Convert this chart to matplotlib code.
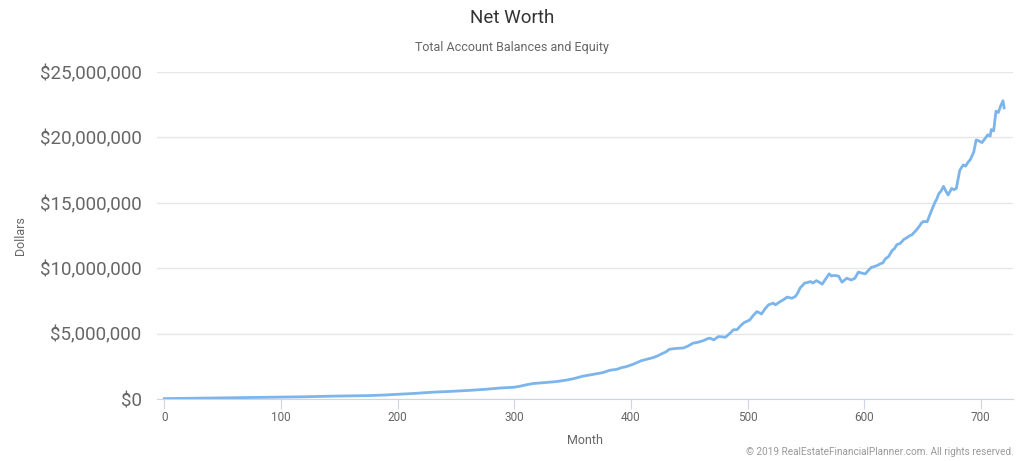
import matplotlib
matplotlib.use("Agg")
from matplotlib import pyplot as plt
from matplotlib.ticker import FuncFormatter

# net worth (millions of dollars)
months = [0, 20, 45, 70, 100, 120, 145, 160, 175, 190, 200, 215, 230, 245, 260,
          275, 288, 300, 305, 310, 316, 325, 336, 345, 352, 359, 365, 373, 376,
          382, 388, 392, 396, 402, 409, 414, 419, 423, 426, 430, 433, 437, 441,
          445, 449, 453, 458, 462, 466, 468, 471, 475, 479, 481, 485, 488, 491,
          494, 497, 499, 502, 505, 508, 510, 512, 515, 518, 522, 524, 528, 531,
          534, 538, 541, 543, 545, 549, 551, 554, 556, 559, 562, 564, 566, 570,
          572, 574, 578, 581, 585, 589, 592, 595, 599, 601, 604, 606, 611, 614,
          616, 618, 621, 624, 626, 628, 631, 634, 636, 639, 641, 645, 648, 649,
          651, 654, 656, 658, 661, 662, 664, 666, 668, 670, 672, 675, 677, 679,
          682, 685, 687, 689, 691, 694, 696, 698, 701, 704, 706, 708, 709, 711,
          713, 715, 717, 719, 720]
net_worth_m = [0.03, 0.05, 0.08, 0.11, 0.14, 0.17, 0.22, 0.24, 0.26, 0.31, 0.36,
               0.43, 0.52, 0.58, 0.65, 0.74, 0.84, 0.90, 0.98, 1.08, 1.18, 1.25,
               1.33, 1.45, 1.58, 1.75, 1.84, 1.97, 2.02, 2.20, 2.27, 2.40, 2.47,
               2.66, 2.93, 3.05, 3.16, 3.30, 3.44, 3.60, 3.80, 3.85, 3.88, 3.90,
               4.05, 4.26, 4.35, 4.46, 4.62, 4.65, 4.52, 4.77, 4.75, 4.72, 5.03,
               5.30, 5.30, 5.60, 5.84, 5.92, 6.05, 6.40, 6.68, 6.60, 6.50, 6.90,
               7.20, 7.33, 7.20, 7.45, 7.60, 7.79, 7.70, 7.84, 8.10, 8.48, 8.86,
               8.90, 8.98, 8.86, 9.05, 8.90, 8.78, 9.05, 9.57, 9.40, 9.45, 9.40,
               8.93, 9.23, 9.10, 9.23, 9.70, 9.60, 9.57, 9.87, 10.05, 10.20, 10.35,
               10.40, 10.70, 10.90, 11.36, 11.50, 11.80, 11.90, 12.20, 12.30, 12.48,
               12.56, 12.94, 13.30, 13.45, 13.58, 13.55, 14.00, 14.47, 15.10, 15.24,
               15.70, 15.90, 16.26, 15.90, 15.60, 16.10, 16.00, 16.10, 17.50, 17.90,
               17.80, 18.10, 18.30, 18.90, 19.80, 19.75, 19.60, 19.96, 20.20, 20.10,
               20.60, 20.50, 22.00, 21.90, 22.40, 22.80, 22.26]
net_worth = [v * 1e6 for v in net_worth_m]

x_ticks = [0, 100, 200, 300, 400, 500, 600, 700]
y_ticks = [0, 5e6, 10e6, 15e6, 20e6, 25e6]

plt.rcParams['font.family'] = ['Roboto', 'DejaVu Sans']

fig = plt.figure(figsize=(10.24, 4.61), dpi=100)
ax = fig.add_axes([157 / 1024, 1 - 399 / 461, 856 / 1024, 327 / 461])

ax.plot(months, net_worth, color="#7cb5ec", lw=2, solid_joinstyle="round")

ax.set_xlim(-6.3, 727.6)
ax.set_ylim(0, 25e6)
ax.set_xticks(x_ticks)
ax.set_yticks(y_ticks)
ax.yaxis.set_major_formatter(FuncFormatter(lambda v, p: "${:,.0f}".format(v)))

ax.grid(axis="y", color="#e6e6e6", lw=1)
ax.set_axisbelow(True)
for side in ["top", "right", "left"]:
    ax.spines[side].set_visible(False)
ax.spines["bottom"].set_color("#ccd6eb")
ax.tick_params(axis="y", length=0, pad=11, labelsize=13.5, labelcolor="#666666")
ax.tick_params(axis="x", length=7.2, color="#ccd6eb", pad=1.5, labelsize=8.5,
               labelcolor="#666666")

ax.set_xlabel("Month", fontsize=9, color="#666666", labelpad=7)
ax.set_ylabel("Dollars", fontsize=9, color="#666666", labelpad=9)

fig.text(0.5, 1 - 18 / 461, "Net Worth", ha="center", va="center",
         fontsize=13.5, color="#333333")
fig.text(0.5, 1 - 48 / 461, "Total Account Balances and Equity", ha="center",
         va="center", fontsize=9, color="#666666")
fig.text(1014 / 1024, 1 - 452 / 461,
         "\u00a9 2019 RealEstateFinancialPlanner.com. All rights reserved.",
         ha="right", va="center", fontsize=7.2, color="#999999")

fig.savefig("out.png", dpi=100)
